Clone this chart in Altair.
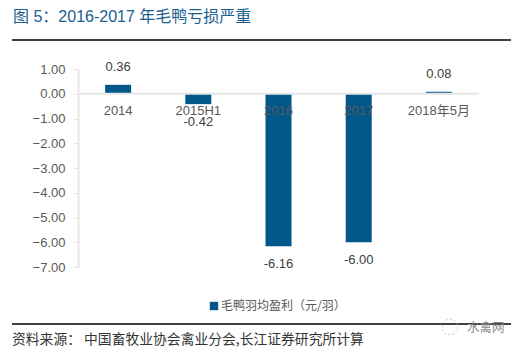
import altair as alt
import pandas as pd

periods = ["2014", "2015H1", "2016", "2017", "2018年5月"]
profits = [0.36, -0.42, -6.16, -6.00, 0.08]
labels = ["0.36", "-0.42", "-6.16", "-6.00", "0.08"]
series_name = "毛鸭羽均盈利（元/羽）"
title_text = "图 5：2016-2017 年毛鸭亏损严重"
source_text = "资料来源：  中国畜牧业协会禽业分会,长江证券研究所计算"
watermark_text = "水禽网"

CJK = "Noto Sans CJK SC"
LAT = "Liberation Sans"
FONT = f"{LAT}, {CJK}"

df = pd.DataFrame({"period": periods, "profit": profits, "label": labels, "series": series_name})
x_enc = alt.X("period:N", sort=periods, title=None,
              scale=alt.Scale(paddingInner=0, paddingOuter=0),
              axis=None)
y_scale = alt.Scale(domain=[-7, 1], nice=False)
y_axis = alt.Axis(values=list(range(-7, 2)), format=".2f", grid=False, title=None,
                  domainColor="#e6e6e6", domainWidth=2, tickColor="#e6e6e6",
                  tickSize=5, tickWidth=1, labelColor="#595959", labelFont=LAT,
                  labelFontSize=13, labelPadding=8)
y_enc = alt.Y("profit:Q", scale=y_scale, title=None, axis=y_axis)

base = alt.Chart(df)
bars = base.mark_bar(size=26).encode(
    x=x_enc, y=y_enc, y2=alt.datum(0),
    color=alt.Color("series:N", scale=alt.Scale(range=["#00578a"]),
                    legend=alt.Legend(orient="none", legendX=130, legendY=231, title=None,
                                      symbolType="square", symbolSize=70, labelFont=CJK,
                                      labelFontSize=12, labelColor="#595959", labelLimit=260,
                                      symbolOffset=0, columnPadding=0, labelOffset=1)))
zero = alt.Chart(pd.DataFrame({"z": [0]})).mark_rule(color="#e6e6e6", strokeWidth=2).encode(
    y=alt.Y("z:Q", scale=y_scale, title=None, axis=y_axis))
pos = base.transform_filter("datum.profit > 0").mark_text(
    dy=-18, font=LAT, fontSize=13, color="#404040").encode(x=x_enc, y=y_enc, text="label:N")
neg = base.transform_filter("datum.profit < 0").mark_text(
    dy=18, font=LAT, fontSize=13, color="#404040").encode(x=x_enc, y=y_enc, text="label:N")
ticks = base.mark_text(dy=17, font=FONT, fontSize=13, color="#595959").encode(
    x=x_enc, y=alt.Y("zero:Q", scale=y_scale, title=None, axis=y_axis), text="period:N"
).transform_calculate(zero="0")

rule_df = pd.DataFrame({"r": [0]})
top_rule = alt.Chart(rule_df).mark_rule(color="#000000", strokeWidth=1.5).encode(
    x=alt.value(-66), x2=alt.value(433), y=alt.value(-29))
bottom_rule = alt.Chart(rule_df).mark_rule(color="#000000", strokeWidth=1.5).encode(
    x=alt.value(-66), x2=alt.value(433), y=alt.value(255))
title = alt.Chart(pd.DataFrame({"t": [title_text]})).mark_text(
    align="left", baseline="middle", font=FONT, fontSize=16, color="#1a6090").encode(
    x=alt.value(-65), y=alt.value(-52), text="t:N")
source = alt.Chart(pd.DataFrame({"t": [source_text]})).mark_text(
    align="left", baseline="middle", font=CJK, fontSize=13.8, color="#333333").encode(
    x=alt.value(-66), y=alt.value(271), text="t:N")
mark_wm = alt.Chart(pd.DataFrame({"t": [watermark_text]})).mark_text(
    align="left", baseline="middle", font=CJK, fontSize=12.5, color="#8c8c8c").encode(
    x=alt.value(389), y=alt.value(259), text="t:N")
icon = alt.Chart(rule_df).mark_point(shape="circle", size=240, color="#b0b0b0",
                                     strokeDash=[2, 2], strokeWidth=1).encode(
    x=alt.value(372), y=alt.value(258))

chart = alt.layer(bars, zero, ticks, pos, neg, top_rule, bottom_rule, title, source, icon, mark_wm).properties(
    width=401, height=198,
    padding={"left": 70, "top": 61, "right": 35, "bottom": 85},
    autosize=alt.AutoSizeParams(type="none"),
    background="white",
).configure_view(stroke=None)

chart.save("out.html", embed_options={"renderer": "svg", "actions": False})
